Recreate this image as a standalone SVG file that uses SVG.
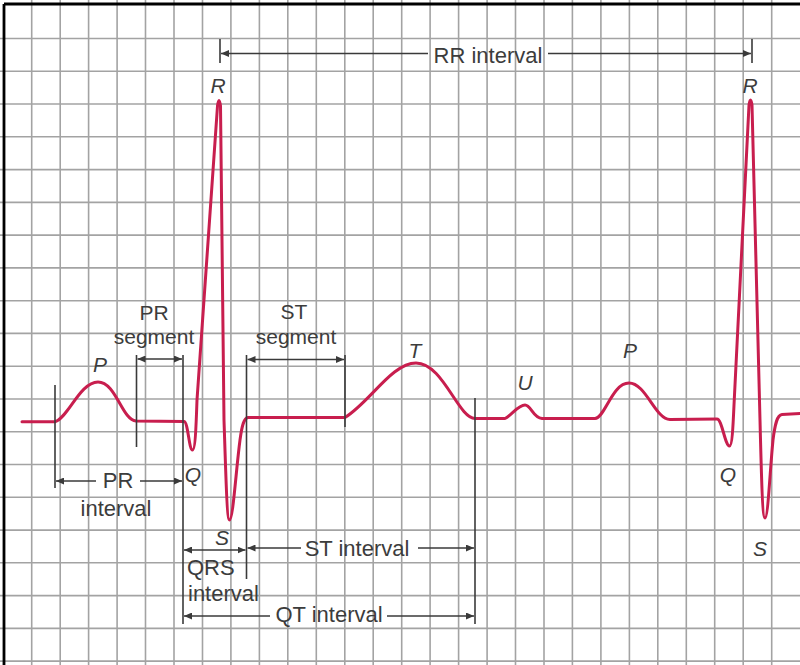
<svg xmlns="http://www.w3.org/2000/svg" width="800" height="665" viewBox="0 0 800 665">
<defs>
<style>
.grid line{stroke:#a3a3a3;stroke-width:1.6}
.dim{stroke:#3a3a3a;stroke-width:1.6;fill:none}
.tick{stroke:#3a3a3a;stroke-width:1.6}
.lbl{font-family:"Liberation Sans",Arial,sans-serif;font-size:22px;fill:#3c3c3c;text-anchor:middle}
.lbl2{font-family:"Liberation Sans",Arial,sans-serif;font-size:21px;fill:#3c3c3c;text-anchor:middle}
.wave{font-family:"Liberation Sans",Arial,sans-serif;font-size:21px;font-style:italic;fill:#3c3c3c;text-anchor:middle}
.ecg{fill:none;stroke:#c81e4e;stroke-width:3;stroke-linejoin:round;stroke-linecap:round}
</style>
<marker id="ah" viewBox="0 0 10 10" refX="10" refY="5" markerWidth="8" markerHeight="7" markerUnits="userSpaceOnUse" orient="auto-start-reverse" preserveAspectRatio="none">
<path d="M0,0 L10,5 L0,10 z" fill="#3a3a3a"/>
</marker>
</defs>
<rect width="800" height="665" fill="#ffffff"/>
<g class="grid" id="grid">
<line x1="31.7" y1="0" x2="31.7" y2="665"/><line x1="60.2" y1="0" x2="60.2" y2="665"/><line x1="88.6" y1="0" x2="88.6" y2="665"/><line x1="117.1" y1="0" x2="117.1" y2="665"/><line x1="145.5" y1="0" x2="145.5" y2="665"/><line x1="174" y1="0" x2="174" y2="665"/><line x1="202.5" y1="0" x2="202.5" y2="665"/><line x1="230.9" y1="0" x2="230.9" y2="665"/><line x1="259.4" y1="0" x2="259.4" y2="665"/><line x1="287.8" y1="0" x2="287.8" y2="665"/><line x1="316.3" y1="0" x2="316.3" y2="665"/><line x1="344.8" y1="0" x2="344.8" y2="665"/><line x1="373.2" y1="0" x2="373.2" y2="665"/><line x1="401.7" y1="0" x2="401.7" y2="665"/><line x1="430.1" y1="0" x2="430.1" y2="665"/><line x1="458.6" y1="0" x2="458.6" y2="665"/><line x1="487.1" y1="0" x2="487.1" y2="665"/><line x1="515.5" y1="0" x2="515.5" y2="665"/><line x1="544" y1="0" x2="544" y2="665"/><line x1="572.4" y1="0" x2="572.4" y2="665"/><line x1="600.9" y1="0" x2="600.9" y2="665"/><line x1="629.4" y1="0" x2="629.4" y2="665"/><line x1="657.8" y1="0" x2="657.8" y2="665"/><line x1="686.3" y1="0" x2="686.3" y2="665"/><line x1="714.7" y1="0" x2="714.7" y2="665"/><line x1="743.2" y1="0" x2="743.2" y2="665"/><line x1="771.7" y1="0" x2="771.7" y2="665"/>
<line x1="0" y1="38.5" x2="800" y2="38.5"/><line x1="0" y1="71.3" x2="800" y2="71.3"/><line x1="0" y1="104" x2="800" y2="104"/><line x1="0" y1="136.8" x2="800" y2="136.8"/><line x1="0" y1="169.6" x2="800" y2="169.6"/><line x1="0" y1="202.4" x2="800" y2="202.4"/><line x1="0" y1="235.1" x2="800" y2="235.1"/><line x1="0" y1="267.9" x2="800" y2="267.9"/><line x1="0" y1="300.7" x2="800" y2="300.7"/><line x1="0" y1="333.4" x2="800" y2="333.4"/><line x1="0" y1="366.2" x2="800" y2="366.2"/><line x1="0" y1="399" x2="800" y2="399"/><line x1="0" y1="431.7" x2="800" y2="431.7"/><line x1="0" y1="464.5" x2="800" y2="464.5"/><line x1="0" y1="497.3" x2="800" y2="497.3"/><line x1="0" y1="530.1" x2="800" y2="530.1"/><line x1="0" y1="562.8" x2="800" y2="562.8"/><line x1="0" y1="595.6" x2="800" y2="595.6"/><line x1="0" y1="628.4" x2="800" y2="628.4"/><line x1="0" y1="661.1" x2="800" y2="661.1"/>
</g>
<g id="frame" stroke="#000" stroke-width="2.8">
<line x1="4" y1="4" x2="800" y2="4"/>
<line x1="4" y1="4" x2="4" y2="665"/>
</g>
<g id="ecg-trace">
<path class="ecg" d="M22 421.7 L55 421.7 C68 418 80 382 98 382 C116 382 122 420 136 421 L184 421.5 C188 421.5 189 450 192.5 450 C195 450 196 430 197 400 L217.5 106 Q219 95 220.5 106 L224 420 C226 480 227 520 229.5 520 C233 520 236 470 240 440 C242 425 244 418 248 417.5 L345 417.5 C370 402 392 363 416 363 C443 363 458 418 475 418.5 L505 418.5 C512 415 518 405 525 405 C531 405 533 418 542 418.5 L595 418.5 C605 418 612 383 629 383 C646 383 655 419 670 419.5 L717 419 C722 419 725 446 729.5 446 C732 446 733 428 734 405 L749 105 Q750.5 95 752 105 L760 420 C761.5 480 762.5 518 765 518 C768 518 770 470 773 440 C775 424 777 415 782 414.5 L800 413.5"/>
</g>
<g id="connectors">
<line class="tick" x1="220" y1="39" x2="220" y2="63"/>
<line class="tick" x1="752" y1="39" x2="752" y2="63"/>
<line class="tick" x1="55" y1="385" x2="55" y2="488"/>
<line class="tick" x1="136.5" y1="355" x2="136.5" y2="447"/>
<line class="tick" x1="183" y1="355" x2="183" y2="624"/>
<line class="tick" x1="246.5" y1="355" x2="246.5" y2="579"/>
<line class="tick" x1="345" y1="355" x2="345" y2="427"/>
<line class="tick" x1="475" y1="398" x2="475" y2="624"/>
<path class="dim" d="M428 53.5 L221 53.5" marker-end="url(#ah)"/>
<path class="dim" d="M548 53.5 L751 53.5" marker-end="url(#ah)"/>
<path class="dim" d="M137.5 359 L182 359" marker-start="url(#ah)" marker-end="url(#ah)"/>
<path class="dim" d="M247.5 359.5 L344 359.5" marker-start="url(#ah)" marker-end="url(#ah)"/>
<path class="dim" d="M96 481 L56 481" marker-end="url(#ah)"/>
<path class="dim" d="M140 481 L182 481" marker-end="url(#ah)"/>
<path class="dim" d="M184 550 L245.5 550" marker-start="url(#ah)" marker-end="url(#ah)"/>
<path class="dim" d="M301 548 L247.5 548" marker-end="url(#ah)"/>
<path class="dim" d="M418 548 L474 548" marker-end="url(#ah)"/>
<path class="dim" d="M270 616 L184 616" marker-end="url(#ah)"/>
<path class="dim" d="M387 616 L474 616" marker-end="url(#ah)"/>
</g>
<g id="wave-labels">
<text class="wave" x="218" y="93">R</text>
<text class="wave" x="750" y="93">R</text>
<text class="wave" x="193" y="482">Q</text>
<text class="wave" x="728" y="482">Q</text>
<text class="wave" x="222" y="545">S</text>
<text class="wave" x="760" y="556">S</text>
<text class="wave" x="100" y="372">P</text>
<text class="wave" x="630" y="358">P</text>
<text class="wave" x="415" y="358">T</text>
<text class="wave" x="525" y="390">U</text>
</g>
<g id="rr-interval"><text class="lbl" x="488" y="63">RR interval</text></g>
<g id="pr-segment"><text class="lbl2" x="154" y="320">PR</text><text class="lbl2" x="154" y="344">segment</text></g>
<g id="st-segment"><text class="lbl2" x="294" y="319">ST</text><text class="lbl2" x="296" y="344">segment</text></g>
<g id="pr-interval"><text class="lbl" x="118" y="488">PR</text><text class="lbl" x="116" y="516">interval</text></g>
<g id="qrs-interval"><text class="lbl" x="187" y="575" style="text-anchor:start">QRS</text><text class="lbl" x="188" y="601" style="text-anchor:start">interval</text></g>
<g id="st-interval"><text class="lbl" x="357" y="556">ST interval</text></g>
<g id="qt-interval"><text class="lbl" x="329" y="622">QT interval</text></g>
</svg>
